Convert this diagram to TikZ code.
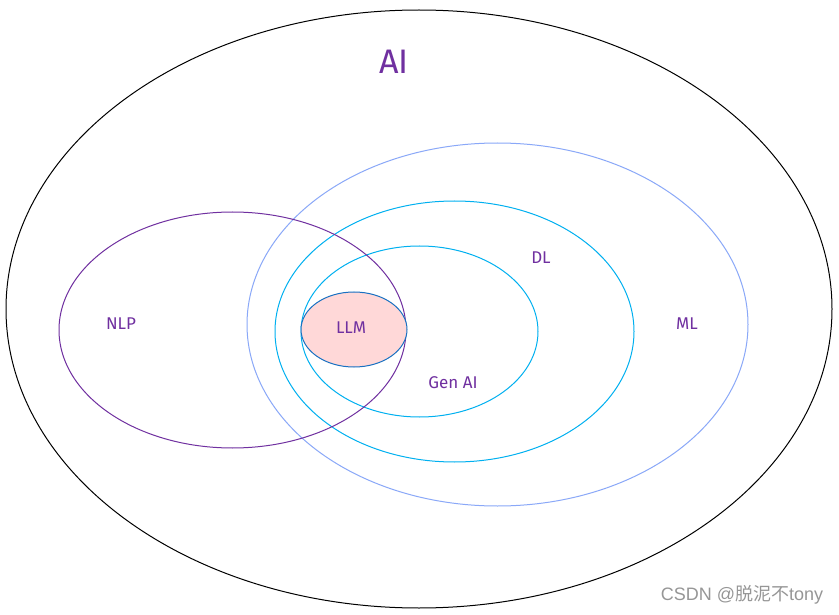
\documentclass[tikz,border=0pt]{standalone}
\usepackage{fontspec}
\setmainfont{Fira Sans}
\newfontfamily\cjk{Noto Sans CJK SC}
\usetikzlibrary{shapes.geometric}
\definecolor{txtpurple}{RGB}{112,48,160}
\definecolor{mlblue}{RGB}{138,168,248}
\definecolor{dlcyan}{RGB}{0,176,240}
\definecolor{llmfill}{RGB}{255,216,216}
\definecolor{llmdraw}{RGB}{25,113,194}
\definecolor{nlppurple}{RGB}{112,48,160}
\definecolor{wmgray}{RGB}{150,150,150}
\tikzset{
  region/.style={ellipse, draw, line width=1pt, inner sep=0pt},
  lbl/.style={text=txtpurple, font=\fontsize{17}{20}\selectfont, inner sep=0pt}
}
\begin{document}
\begin{tikzpicture}[x=1pt,y=-1pt]
\useasboundingbox (0,0) rectangle (839,615);
\fill[white] (0,0) rectangle (839,615);
\node[region, draw=black, minimum width=826pt, minimum height=598pt] (ai) at (419,309) {};
\node[region, draw=mlblue, minimum width=501pt, minimum height=363pt] (ml) at (497.5,324.5) {};
\node[region, draw=dlcyan, minimum width=359pt, minimum height=261pt] (dl) at (454.5,331.5) {};
\node[region, draw=dlcyan, minimum width=237pt, minimum height=171pt] (gen) at (419.5,331.5) {};
\node[region, draw=nlppurple, minimum width=347pt, minimum height=236pt] (nlp) at (232.5,330) {};
\node[region, draw=llmdraw, fill=llmfill, minimum width=106pt, minimum height=75pt] (llm) at (354,329.5) {};
\node[lbl, font=\fontsize{34}{38}\selectfont] (ailbl) at (394,62) {AI};
\node[lbl] (nlplbl) at (121,324) {NLP};
\node[lbl] (mllbl) at (687,324) {ML};
\node[lbl] (dllbl) at (541,258) {DL};
\node[lbl] (llmlbl) at (351,328) {LLM};
\node[lbl] (genlbl) at (453,383) {Gen AI};
\node[text=wmgray, font=\fontsize{18}{21}\selectfont, inner sep=0pt] (wm) at (742,595) {\fontspec{Liberation Sans}CSDN @{\cjk 脱泥不}tony};
\end{tikzpicture}
\end{document}
